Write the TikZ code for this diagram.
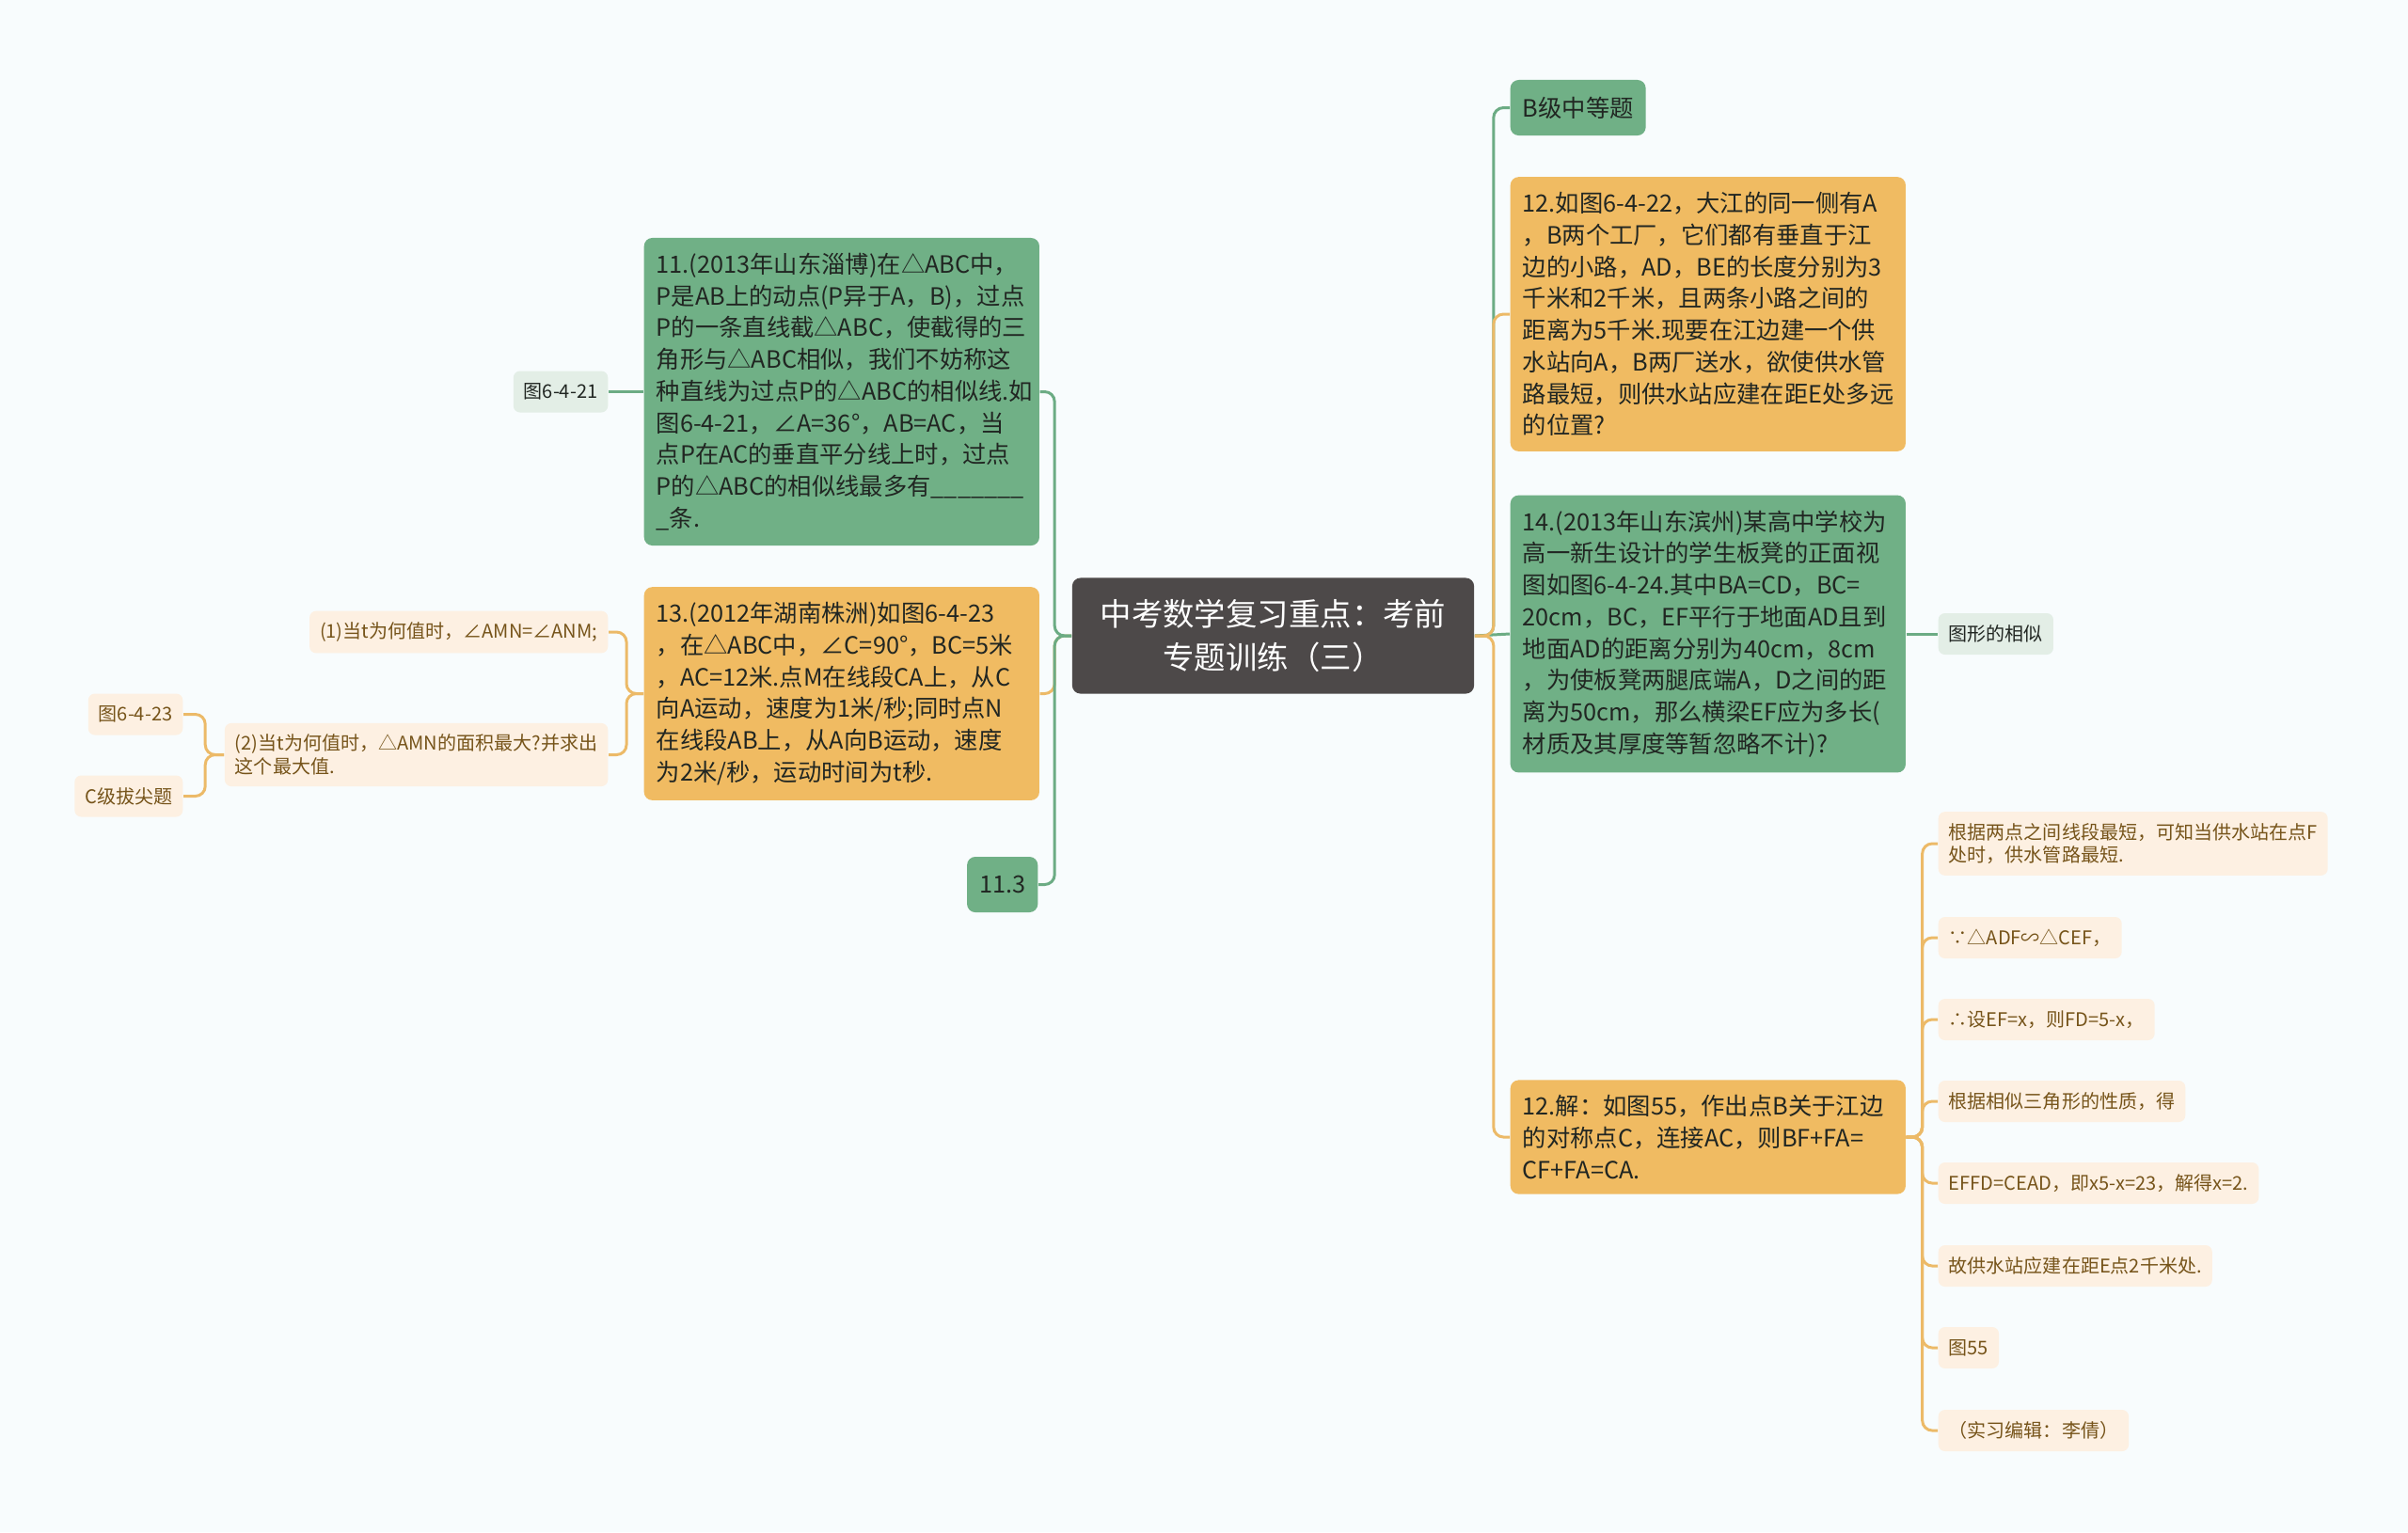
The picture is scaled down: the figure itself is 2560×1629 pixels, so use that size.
\documentclass[tikz,border=0pt]{standalone}
\usepackage{fontspec}
\setmainfont{Noto Sans CJK SC}
\usepackage{tikz}
\definecolor{bgc}{RGB}{248,252,253}
\definecolor{grn}{RGB}{112,176,134}
\definecolor{org}{RGB}{240,187,98}
\definecolor{crm}{RGB}{253,240,226}
\definecolor{lgr}{RGB}{227,238,230}
\definecolor{rootc}{RGB}{77,73,73}
\definecolor{brn}{RGB}{118,84,26}
\definecolor{dk}{RGB}{33,38,34}
\definecolor{grnl}{RGB}{108,172,132}
\definecolor{orgl}{RGB}{236,186,104}
\newcommand{\bigtxt}{\fontsize{9.5pt}{13pt}\selectfont}
\newcommand{\midtxt}{\fontsize{7.2pt}{9.6pt}\selectfont}
\newcommand{\smtxt}{\fontsize{5.7pt}{7pt}\selectfont}
\exhyphenpenalty=10000
\hyphenpenalty=10000

\begin{document}
\begin{tikzpicture}[x=0.01cm,y=-0.01cm,
  rootbox/.style={fill=rootc,text=white,rounded corners=2.5pt,minimum width=4.27cm,minimum height=1.23cm,align=center,font=\bigtxt},
  gbox/.style={fill=grn,text=dk,rounded corners=2.5pt,inner xsep=0.13cm,inner ysep=0.16cm,text width=3.94cm,align=left,font=\midtxt},
  obox/.style={gbox,fill=org},
  gtag/.style={fill=grn,text=dk,rounded corners=2.5pt,inner xsep=0.13cm,minimum height=0.59cm,font=\midtxt},
  ctag/.style={fill=crm,text=brn,rounded corners=2pt,inner xsep=0.11cm,inner ysep=0.12cm,minimum height=0.44cm,align=left,font=\smtxt},
  ltag/.style={ctag,fill=lgr,text=dk},
  gline/.style={grnl,line width=0.85pt,rounded corners=3pt},
  oline/.style={orgl,line width=0.85pt,rounded corners=3pt}]
  \fill[bgc] (0,0) rectangle (2560,1629);

  \draw (1353.5,676) node[rootbox] (root) {中考数学复习重点：考前\\专题训练（三）};

  % left branch
  \draw (684,416.5) node[gbox,anchor=west] (n11) {11.(2013年山东淄博)在△ABC中，\\P是AB上的动点(P异于A，B)，过点\\P的一条直线截△ABC，使截得的三\\角形与△ABC相似，我们不妨称这\\种直线为过点P的△ABC的相似线.如\\图6-4-21，∠A=36°，AB=AC，当\\点P在AC的垂直平分线上时，过点\\P的△ABC的相似线最多有\_\_\_\_\_\_\_\\\_条.};
  \draw (684,737.5) node[obox,anchor=west] (n13) {13.(2012年湖南株洲)如图6-4-23\\，在△ABC中，∠C=90°，BC=5米\\，AC=12米.点M在线段CA上，从C\\向A运动，速度为1米/秒;同时点N\\在线段AB上，从A向B运动，速度\\为2米/秒，运动时间为t秒.};
  \draw (1104,940.5) node[gtag,anchor=east] (r113) {11.3};

  \draw (647,416.5) node[ltag,anchor=east] (f621) {图6-4-21};
  \draw (647,672) node[ctag,anchor=east] (q1) {(1)当t为何值时，∠AMN=∠ANM;};
  \draw (647,802.5) node[ctag,anchor=east] (q2) {(2)当t为何值时，△AMN的面积最大?并求出\\这个最大值.};
  \draw (195,759.5) node[ctag,anchor=east] (f623) {图6-4-23};
  \draw (195,846.5) node[ctag,anchor=east] (lvc) {C级拔尖题};

  % right branch
  \draw (1605,114.5) node[gtag,anchor=west] (lvb) {B级中等题};
  \draw (1605,334) node[obox,anchor=west] (n12) {12.如图6-4-22，大江的同一侧有A\\，B两个工厂，它们都有垂直于江\\边的小路，AD，BE的长度分别为3\\千米和2千米，且两条小路之间的\\距离为5千米.现要在江边建一个供\\水站向A，B两厂送水，欲使供水管\\路最短，则供水站应建在距E处多远\\的位置?};
  \draw (1605,674) node[gbox,anchor=west] (n14) {14.(2013年山东滨州)某高中学校为\\高一新生设计的学生板凳的正面视\\图如图6-4-24.其中BA=CD，BC=\\20cm，BC，EF平行于地面AD且到\\地面AD的距离分别为40cm，8cm\\，为使板凳两腿底端A，D之间的距\\离为50cm，那么横梁EF应为多长(\\材质及其厚度等暂忽略不计)?};
  \draw (1605,1209) node[obox,anchor=west] (s12) {12.解：如图55，作出点B关于江边\\的对称点C，连接AC，则BF+FA=\\CF+FA=CA.};
  \draw (2060,674) node[ltag,anchor=west] (shp) {图形的相似};

  \draw (2060,897) node[ctag,anchor=west] (a1) {根据两点之间线段最短，可知当供水站在点F\\处时，供水管路最短.};
  \draw (2060,997) node[ctag,anchor=west] (a2) {∵△ADF∽△CEF，};
  \draw (2060,1084) node[ctag,anchor=west] (a3) {∴设EF=x，则FD=5-x，};
  \draw (2060,1171) node[ctag,anchor=west] (a4) {根据相似三角形的性质，得};
  \draw (2060,1258) node[ctag,anchor=west] (a5) {EFFD=CEAD，即x5-x=23，解得x=2.};
  \draw (2060,1346) node[ctag,anchor=west] (a6) {故供水站应建在距E点2千米处.};
  \draw (2060,1433) node[ctag,anchor=west] (a7) {图55};
  \draw (2060,1521) node[ctag,anchor=west] (a8) {（实习编辑：李倩）};

  % connectors
  \draw[oline] (root.west) -- ++(-18,0) |- (n13.east);
  \draw[gline] (root.west) -- ++(-18,0) |- (n11.east);
  \draw[gline] (root.west) -- ++(-18,0) |- (r113.east);
  \draw[gline] (n11.west) -- (f621.east);
  \draw[oline] (n13.west) -- ++(-18,0) |- (q1.east);
  \draw[oline] (n13.west) -- ++(-18,0) |- (q2.east);
  \draw[oline] (q2.west) -- ++(-20,0) |- (f623.east);
  \draw[oline] (q2.west) -- ++(-20,0) |- (lvc.east);

  \draw[gline] (root.east) -- ++(20,0) |- (lvb.west);
  \draw[gline] (root.east) -- (n14.west);
  \draw[oline] (root.east) -- ++(20,0) |- (n12.west);
  \draw[oline] (root.east) -- ++(20,0) |- (s12.west);
  \draw[gline] (n14.east) -- (shp.west);
  \foreach \k in {a1,a2,a3,a4,a5,a6,a7,a8}
    \draw[oline] (s12.east) -- ++(17,0) |- (\k.west);
\end{tikzpicture}
\end{document}
